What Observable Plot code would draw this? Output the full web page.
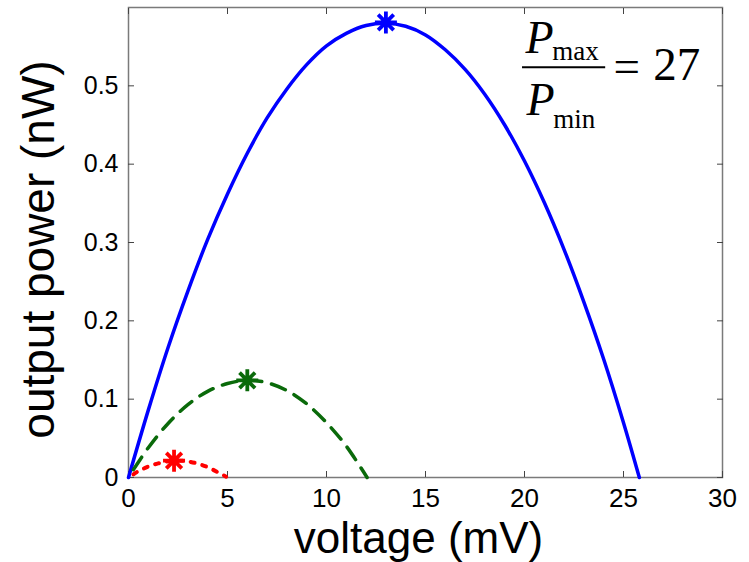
<!DOCTYPE html>
<html><head><meta charset="utf-8">
<script src="https://cdn.jsdelivr.net/npm/d3@7"></script>
<script src="https://cdn.jsdelivr.net/npm/@observablehq/plot@0.6"></script>
<style>body{margin:0;background:#fff;} #chart svg{display:block;}</style>
</head><body><div id="chart"></div>
<script>
// Series
const blueVoltage = [0,1,2,3,4,5,6,7,8,9,10,11,12,13,14,15,16,17,18,19,20,21,22,23,24,25,25.8];
const bluePower   = [0,0.086,0.166,0.238,0.304,0.362,0.414,0.459,0.496,0.527,0.551,0.567,0.577,0.580,0.576,0.565,0.546,0.521,0.489,0.450,0.404,0.351,0.291,0.224,0.151,0.070,0];
const greenVoltage = [0.25,1,2,3,4,5,6,7,8,9,10,11,12.05];
const greenPower   = [0.010,0.038,0.069,0.093,0.110,0.120,0.124,0.121,0.111,0.094,0.070,0.040,0];
const redVoltage = [0.25,0.5,1,1.5,2,2.5,3,3.5,4,4.5,4.93];
const redPower   = [0.004,0.008,0.014,0.018,0.0207,0.0215,0.0205,0.0177,0.0132,0.0068,0.001];
// Maximum power points (stars)
const peakVoltage = [13, 6.0, 2.3];
const peakPower   = [0.581, 0.124, 0.0215];
const seriesNames = ["blue", "green", "red"];
// Axes
const xTicks = [0,5,10,15,20,25,30];
const xTickLabels = ["0","5","10","15","20","25","30"];
const yTicks = [0,0.1,0.2,0.3,0.4,0.5];
const yTickLabels = ["0","0.1","0.2","0.3","0.4","0.5"];
const xTitle = "voltage (mV)";
const yTitle = "output power (nW)";
const ratioValue = "27";

const colors = {blue: "#0000ff", green: "#0a6a0a", red: "#ff0000"};
const toRows = (vs, ps) => vs.map((v, i) => ({v, p: ps[i]}));
const blue = toRows(blueVoltage, bluePower);
const green = toRows(greenVoltage, greenPower);
const red = toRows(redVoltage, redPower);
const peaks = peakVoltage.map((v, i) => ({v, p: peakPower[i], s: seriesNames[i]}));

const asterisk = {
  draw(ctx, size) {
    const r = Math.sqrt(size / Math.PI), d = r * Math.SQRT1_2;
    ctx.moveTo(0, -r); ctx.lineTo(0, r);
    ctx.moveTo(-r, 0); ctx.lineTo(r, 0);
    ctx.moveTo(-d, -d); ctx.lineTo(d, d);
    ctx.moveTo(-d, d); ctx.lineTo(d, -d);
  }
};

const sans = "'Liberation Sans', Arial, Helvetica, sans-serif";
const serif = "'Liberation Serif', 'Times New Roman', serif";

const plot = Plot.plot({
  width: 749, height: 562,
  marginLeft: 128, marginRight: 27, marginTop: 7, marginBottom: 85,
  style: {fontFamily: sans, background: "#fff", overflow: "visible"},
  x: {domain: [0, 30], label: null},
  y: {domain: [0, 0.6], label: null},
  marks: [
    Plot.frame({stroke: "#7a7a7a", strokeWidth: 1.5}),
    Plot.axisX(xTicks, {anchor: "bottom", tickSize: -6, tickPadding: 17, tickFormat: (d, i) => xTickLabels[i], fontSize: 26, stroke: "#444", fill: "#000", label: null}),
    Plot.axisX(xTicks, {anchor: "top", tickSize: -6, tickFormat: () => "", stroke: "#444", label: null}),
    Plot.axisY(yTicks, {anchor: "left", tickSize: -6, tickPadding: 16, tickFormat: (d, i) => yTickLabels[i], fontSize: 25, stroke: "#444", fill: "#000", label: null}),
    Plot.axisY(yTicks, {anchor: "right", tickSize: -6, tickFormat: () => "", stroke: "#444", label: null}),
    Plot.line(blue, {x: "v", y: "p", stroke: colors.blue, strokeWidth: 3.5, curve: "catmull-rom"}),
    Plot.line(green, {x: "v", y: "p", stroke: colors.green, strokeWidth: 3.5, strokeDasharray: "15,10", curve: "catmull-rom"}),
    Plot.line(red, {x: "v", y: "p", stroke: colors.red, strokeWidth: 4, strokeDasharray: "4,8", curve: "catmull-rom"}),
    Plot.dot(peaks, {x: "v", y: "p", symbol: asterisk, r: 11, fill: "none", stroke: d => colors[d.s], strokeWidth: 3.8}),
    // axis titles
    Plot.text([xTitle], {frameAnchor: "bottom", textAnchor: "middle", dx: -7, dy: 61, fontSize: 44, fill: "#000", lineAnchor: "middle"}),
    Plot.text([yTitle], {frameAnchor: "left", textAnchor: "middle", dx: -89, dy: 7, rotate: -90, fontSize: 46, fill: "#000", lineAnchor: "middle"}),
    // ratio annotation
    Plot.text(["P"], {x: 20.05, y: 0.5415, textAnchor: "start", lineAnchor: "bottom", fontSize: 46, fontStyle: "italic", fontFamily: serif, fill: "#000"}),
    Plot.text(["max"], {x: 21.4, y: 0.5326, textAnchor: "start", lineAnchor: "bottom", fontSize: 27, fontFamily: serif, fill: "#000"}),
    Plot.ruleY([0.5236], {x1: 19.9, x2: 24.1, stroke: "#000", strokeWidth: 2}),
    Plot.text(["P"], {x: 20.1, y: 0.4623, textAnchor: "start", lineAnchor: "bottom", fontSize: 46, fontStyle: "italic", fontFamily: serif, fill: "#000"}),
    Plot.text(["min"], {x: 21.45, y: 0.4457, textAnchor: "start", lineAnchor: "bottom", fontSize: 27, fontFamily: serif, fill: "#000"}),
    Plot.text(["="], {x: 24.5, y: 0.5045, textAnchor: "start", lineAnchor: "bottom", fontSize: 47, fontFamily: serif, fill: "#000"}),
    Plot.text([ratioValue], {x: 26.5, y: 0.507, textAnchor: "start", lineAnchor: "bottom", fontSize: 47, fontFamily: serif, fill: "#000"})
  ]
});
document.getElementById("chart").append(plot);
</script>
</body></html>
